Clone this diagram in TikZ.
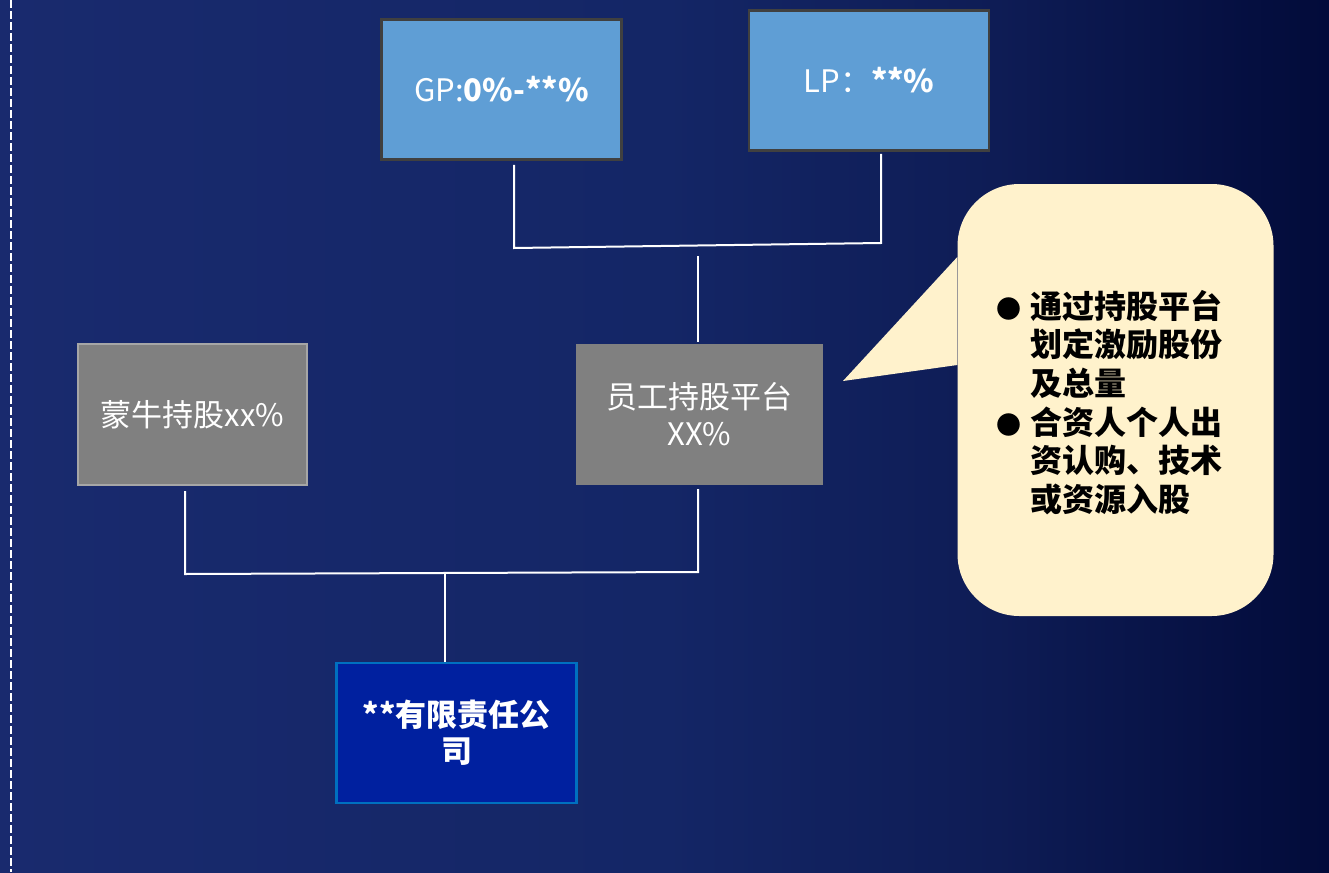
\documentclass[tikz,border=0pt]{standalone}
\usepackage{fontspec}
\newfontfamily\cjk{Noto Sans CJK SC}
\setmainfont{Noto Sans CJK SC}
\pgfdeclarehorizontalshading{bgshade}{100bp}{rgb(0bp)=(0.098,0.165,0.431); rgb(25bp)=(0.098,0.165,0.431); rgb(50bp)=(0.078,0.149,0.40); rgb(62.5bp)=(0.055,0.11,0.333); rgb(75bp)=(0.008,0.043,0.227); rgb(100bp)=(0.008,0.043,0.227)}
\definecolor{lblue}{RGB}{95,158,213}
\definecolor{bdark}{RGB}{64,64,64}
\definecolor{gfill}{RGB}{128,128,128}
\definecolor{gbord}{RGB}{166,166,166}
\definecolor{cfill}{RGB}{0,32,159}
\definecolor{cbord}{RGB}{0,112,192}
\definecolor{note}{RGB}{255,242,204}
\tikzset{
  topbox/.style={draw=bdark, line width=2.5pt, fill=lblue, minimum width=240pt, minimum height=140pt, inner sep=0pt, text=white, font=\cjk\fontsize{31}{36}\selectfont},
  graybox/.style={fill=gfill, minimum height=141pt, inner sep=0pt, text=white, align=center, font=\cjk\fontsize{31}{37}\selectfont},
  cobox/.style={draw=cbord, line width=2.5pt, fill=cfill, minimum width=240pt, minimum height=140pt, inner sep=0pt, text=white, align=center, font=\cjk\bfseries\fontsize{31}{36}\selectfont},
  wire/.style={draw=white, line width=2pt},
}
\newcommand{\bul}{\makebox[34pt][l]{\fontsize{25}{25}\selectfont ●}}
\newcommand{\ind}{\hspace*{34pt}}
\begin{document}
\begin{tikzpicture}[x=1pt,y=-1pt]
\useasboundingbox (0,0) rectangle (1329,872);
\shade[shading=bgshade] (0,0) rectangle (1329,872);
\draw[white, line width=2pt, dash pattern=on 8pt off 3pt] (10.5,0) -- (10.5,872);

\node[topbox] (gp) at (501.5,89.5) {GP:\textbf{0\%-**\%}};
\node[topbox] (lp) at (869,80.5) {LP：\textbf{**\%}};

\node[graybox, draw=gbord, line width=2pt, minimum width=229pt] (mn) at (192.5,414.5) {蒙牛持股xx\%};
\node[graybox, minimum width=247pt] (yg) at (699.5,414.5) {员工持股平台\\XX\%};

\node[cobox] (co) at (456.5,733) {**有限责任公\\司};

% callout
\node[fill=note, rounded corners=62pt, minimum width=316pt, minimum height=432pt, inner sep=0pt] (callout) at (1115.5,400) {};
\fill[note] (callout.west |- 0,257) -- (843,381) -- (callout.west |- 0,365) -- cycle;
\node[anchor=north west, align=left, inner sep=0pt, text=black, font=\cjk\bfseries\fontsize{32}{38.6}\selectfont] (notetext) at (996,290)
  {\bul 通过持股平台\\\ind 划定激励股份\\\ind 及总量\\\bul 合资人个人出\\\ind 资认购、技术\\\ind 或资源入股};

% connectors top
\coordinate (j1) at (514,248);
\coordinate (j2) at (881,243);
\draw[wire] ([shift={(12.5,4)}]gp.south) -- (j1) -- (j2) -- ([shift={(12,2)}]lp.south);
\coordinate (j3) at (698,256);
\draw[wire] (j3) -- ([shift={(-1.5,-2)}]yg.north);

% connectors bottom
\coordinate (j4) at (185,574);
\coordinate (j5) at (698,572);
\draw[wire] ([shift={(-7.5,5)}]mn.south) -- (j4) -- (j5) -- ([shift={(-1.5,4)}]yg.south);
\coordinate (j6) at (445,574);
\draw[wire] (j6) -- ([shift={(-11.5,0)}]co.north);
\end{tikzpicture}
\end{document}
